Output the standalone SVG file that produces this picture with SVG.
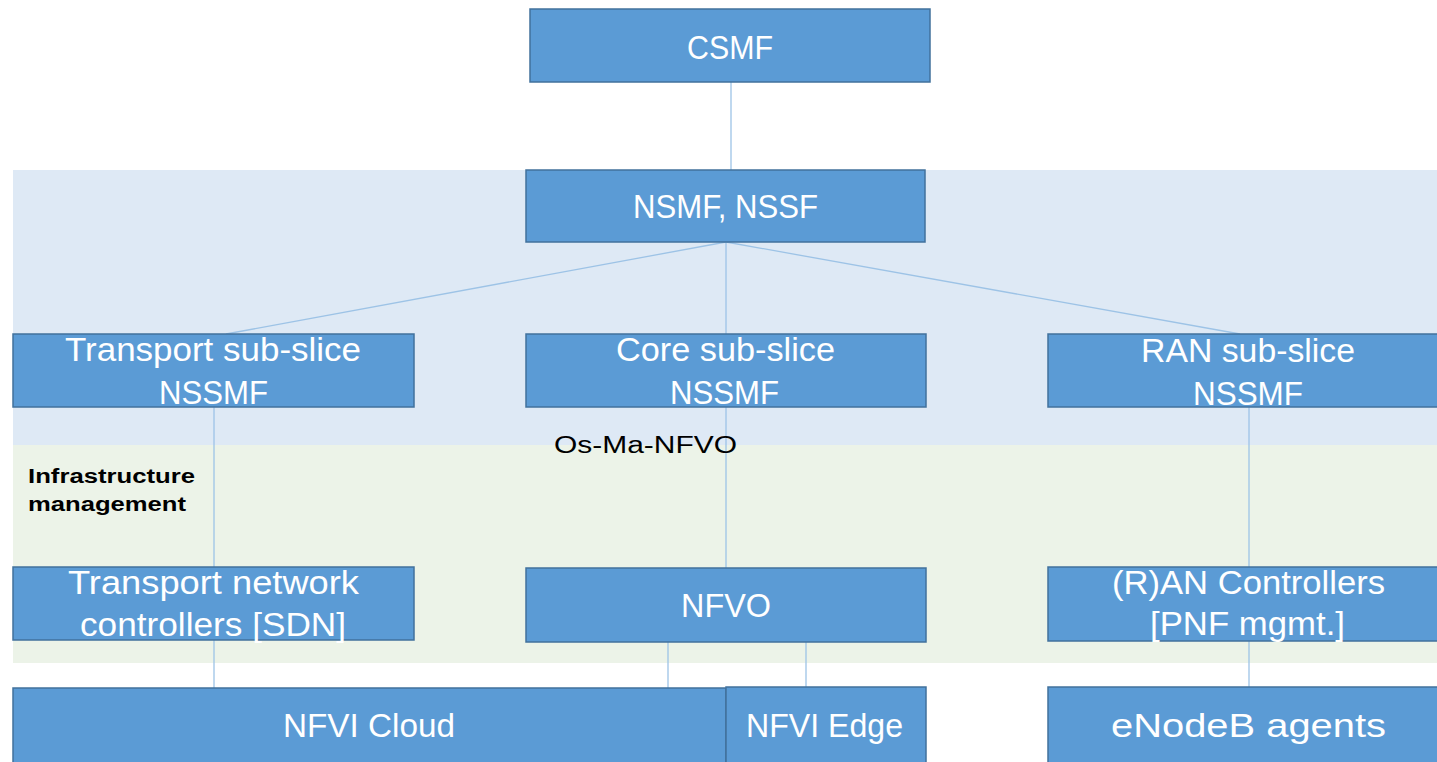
<svg xmlns="http://www.w3.org/2000/svg" width="1437" height="762" viewBox="0 0 1437 762">
<style>
.band-blue{fill:#dee9f5}
.band-green{fill:#ecf3e8}
.box{fill:#5b9bd5;stroke:#41719c;stroke-width:1.5}
.lbl{fill:#ffffff;font-family:"Liberation Sans",Arial,sans-serif;font-size:33px;text-anchor:start}
.conn{stroke:#9dc3e6;stroke-width:1.3;fill:none}
.note{fill:#000000;font-family:"Liberation Sans",Arial,sans-serif}
</style>
<rect width="1437" height="762" fill="#ffffff"/>
<g id="bands">
<rect class="band-blue" x="13" y="170" width="1424" height="275"/>
<rect class="band-green" x="13" y="445" width="1424" height="218"/>
</g>
<g id="connectors">
<line class="conn" x1="731" y1="82" x2="731" y2="170"/>
<line class="conn" x1="726" y1="242" x2="226" y2="334"/>
<line class="conn" x1="726" y1="242" x2="726" y2="568"/>
<line class="conn" x1="726" y1="242" x2="1240" y2="334"/>
<line class="conn" x1="214" y1="407" x2="214" y2="688"/>
<line class="conn" x1="1249" y1="407" x2="1249" y2="687"/>
<line class="conn" x1="668" y1="642" x2="668" y2="688"/>
<line class="conn" x1="806" y1="642" x2="806" y2="687"/>
</g>
<g id="csmf">
<rect class="box" x="530" y="9" width="400" height="73"/>
<text class="lbl" x="687" y="59" textLength="86" lengthAdjust="spacingAndGlyphs">CSMF</text>
</g>
<g id="nsmf">
<rect class="box" x="526" y="170" width="399" height="72"/>
<text class="lbl" x="633" y="218" textLength="185" lengthAdjust="spacingAndGlyphs">NSMF, NSSF</text>
</g>
<g id="transport-nssmf">
<rect class="box" x="13" y="334" width="401" height="73"/>
<text class="lbl" x="65" y="361" textLength="296" lengthAdjust="spacingAndGlyphs">Transport sub-slice</text>
<text class="lbl" x="159" y="404" textLength="109" lengthAdjust="spacingAndGlyphs">NSSMF</text>
</g>
<g id="core-nssmf">
<rect class="box" x="526" y="334" width="400" height="73"/>
<text class="lbl" x="616" y="361" textLength="219" lengthAdjust="spacingAndGlyphs">Core sub-slice</text>
<text class="lbl" x="670" y="404" textLength="109" lengthAdjust="spacingAndGlyphs">NSSMF</text>
</g>
<g id="ran-nssmf">
<rect class="box" x="1048" y="334" width="392" height="73"/>
<text class="lbl" x="1141" y="362" textLength="214" lengthAdjust="spacingAndGlyphs">RAN sub-slice</text>
<text class="lbl" x="1193" y="405" textLength="110" lengthAdjust="spacingAndGlyphs">NSSMF</text>
</g>
<g id="os-ma-nfvo">
<text class="note" x="554" y="453" font-size="23" textLength="183" lengthAdjust="spacingAndGlyphs">Os-Ma-NFVO</text>
</g>
<g id="infra-label">
<text class="note" x="28" y="483" font-size="20" font-weight="bold" textLength="167" lengthAdjust="spacingAndGlyphs">Infrastructure</text>
<text class="note" x="28" y="511" font-size="20" font-weight="bold" textLength="158" lengthAdjust="spacingAndGlyphs">management</text>
</g>
<g id="transport-controllers">
<rect class="box" x="13" y="567" width="401" height="73"/>
<text class="lbl" x="68" y="594" textLength="291" lengthAdjust="spacingAndGlyphs">Transport network</text>
<text class="lbl" x="80" y="636" textLength="266" lengthAdjust="spacingAndGlyphs">controllers [SDN]</text>
</g>
<g id="nfvo">
<rect class="box" x="526" y="568" width="400" height="74"/>
<text class="lbl" x="681" y="617" textLength="90" lengthAdjust="spacingAndGlyphs">NFVO</text>
</g>
<g id="ran-controllers">
<rect class="box" x="1048" y="567" width="392" height="74"/>
<text class="lbl" x="1112" y="594" textLength="273" lengthAdjust="spacingAndGlyphs">(R)AN Controllers</text>
<text class="lbl" x="1150" y="635" textLength="195" lengthAdjust="spacingAndGlyphs">[PNF mgmt.]</text>
</g>
<g id="nfvi-cloud">
<rect class="box" x="13" y="688" width="713" height="76"/>
<text class="lbl" x="283" y="737" textLength="172" lengthAdjust="spacingAndGlyphs">NFVI Cloud</text>
</g>
<g id="nfvi-edge">
<rect class="box" x="726" y="687" width="200" height="77"/>
<text class="lbl" x="746" y="737" textLength="157" lengthAdjust="spacingAndGlyphs">NFVI Edge</text>
</g>
<g id="enodeb">
<rect class="box" x="1048" y="687" width="392" height="77"/>
<text class="lbl" x="1111" y="737" textLength="275" lengthAdjust="spacingAndGlyphs">eNodeB agents</text>
</g>
</svg>
